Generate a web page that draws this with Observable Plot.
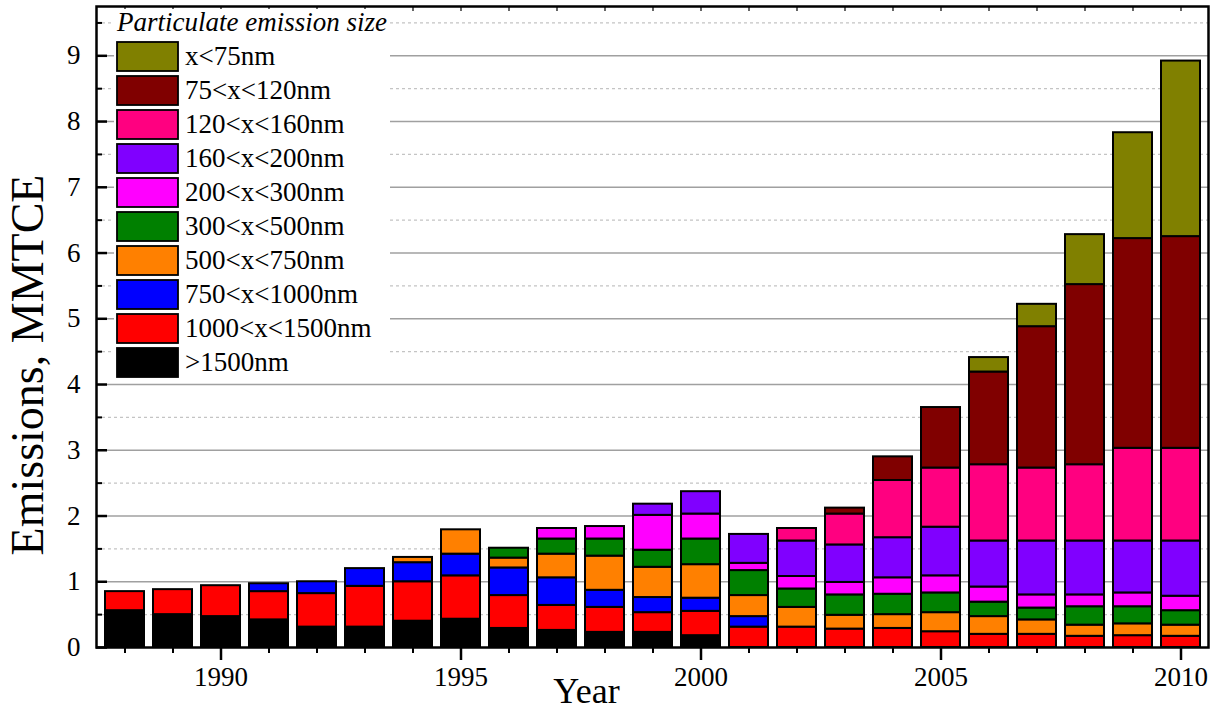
<!DOCTYPE html>
<html>
<head>
<meta charset="utf-8">
<script src="https://cdn.jsdelivr.net/npm/d3@7"></script>
<script src="https://cdn.jsdelivr.net/npm/@observablehq/plot@0.6"></script>
<style>
  html, body { margin: 0; padding: 0; background: white; }
  #chart svg { display: block; }
</style>
</head>
<body>
<div id="chart"></div>
<script>
const years = [1988,1989,1990,1991,1992,1993,1994,1995,1996,1997,1998,1999,2000,2001,2002,2003,2004,2005,2006,2007,2008,2009,2010];

const sizes = [">1500nm","1000<x<1500nm","750<x<1000nm","500<x<750nm","300<x<500nm","200<x<300nm","160<x<200nm","120<x<160nm","75<x<120nm","x<75nm"];
const colors = ["#000000","#ff0000","#0000ff","#ff8000","#008000","#ff00ff","#8000ff","#ff0080","#800000","#808000"];

const s1500 = [0.56,0.50,0.47,0.42,0.31,0.31,0.40,0.43,0.29,0.26,0.23,0.23,0.18,0,0,0,0,0,0,0,0,0,0];
const s1000 = [0.29,0.38,0.47,0.43,0.51,0.62,0.60,0.66,0.50,0.38,0.38,0.30,0.37,0.31,0.31,0.28,0.29,0.24,0.20,0.20,0.17,0.18,0.17];
const s750  = [0,0,0,0.12,0.18,0.27,0.29,0.33,0.42,0.42,0.26,0.23,0.20,0.16,0,0,0,0,0,0,0,0,0];
const s500  = [0,0,0,0,0,0,0.08,0.37,0.15,0.36,0.52,0.46,0.51,0.32,0.30,0.21,0.21,0.29,0.27,0.22,0.17,0.18,0.17];
const s300  = [0,0,0,0,0,0,0,0,0.15,0.23,0.26,0.26,0.39,0.38,0.28,0.31,0.31,0.30,0.22,0.18,0.28,0.26,0.22];
const s200  = [0,0,0,0,0,0,0,0,0,0.16,0.19,0.53,0.38,0.11,0.19,0.19,0.25,0.26,0.23,0.20,0.18,0.21,0.22];
const s160  = [0,0,0,0,0,0,0,0,0,0,0,0.17,0.34,0.44,0.54,0.57,0.61,0.74,0.70,0.82,0.82,0.79,0.84];
const s120  = [0,0,0,0,0,0,0,0,0,0,0,0,0,0,0.19,0.47,0.87,0.90,1.16,1.11,1.16,1.41,1.41];
const s75   = [0,0,0,0,0,0,0,0,0,0,0,0,0,0,0,0.09,0.36,0.92,1.41,2.15,2.74,3.19,3.22];
const s0    = [0,0,0,0,0,0,0,0,0,0,0,0,0,0,0,0,0,0,0.22,0.34,0.76,1.61,2.67];

const series = [s1500, s1000, s750, s500, s300, s200, s160, s120, s75, s0];

const majorY = [0,1,2,3,4,5,6,7,8,9];
const minorY = [0.5,1.5,2.5,3.5,4.5,5.5,6.5,7.5,8.5,9.5];
const labeledYears = [1990,1995,2000,2005,2010];

const data = [];
years.forEach((yr, i) => {
  series.forEach((s, k) => {
    if (s[i] > 0) data.push({year: yr, size: sizes[k], value: s[i]});
  });
});

const FONT = "'Liberation Serif','Times New Roman',Times,serif";

const chart = Plot.plot({
  width: 1214,
  height: 714,
  marginTop: 6,
  marginBottom: 67,
  marginLeft: 96,
  marginRight: 6,
  style: {fontFamily: FONT, fontSize: "27px", background: "white", color: "black"},
  x: {type: "band", domain: years, paddingInner: 0.193, paddingOuter: 0.1, align: 0.5},
  y: {domain: [0, 9.75]},
  color: {domain: sizes, range: colors},
  marks: [
    Plot.ruleY(minorY, {stroke: "#c4c4c4", strokeWidth: 1.2, strokeDasharray: "3,3"}),
    Plot.ruleY(majorY.filter(d => d > 0), {stroke: "#a0a0a0", strokeWidth: 1.5}),
    Plot.barY(data, {x: "year", y: "value", fill: "size", stroke: "black", strokeWidth: 2, order: sizes}),
    // y axis: inward ticks
    Plot.axisY(majorY, {anchor: "left", tickSize: -11, strokeWidth: 2.5, tickFormat: () => "", label: null}),
    Plot.axisY(minorY, {anchor: "left", tickSize: -6, strokeWidth: 2, tickFormat: () => "", label: null}),
    Plot.axisY(majorY, {anchor: "left", tickSize: 0, tickPadding: 16, fontSize: 27, fontFamily: FONT, fill: "black", tickFormat: d => String(d), label: null}),
    // x axis: outward ticks
    Plot.axisX(years, {anchor: "bottom", tickSize: 6, strokeWidth: 2, tickFormat: () => "", label: null}),
    Plot.axisX(labeledYears, {anchor: "bottom", tickSize: 13, strokeWidth: 2.5, tickPadding: 6, fontSize: 27, fontFamily: FONT, fill: "black", tickFormat: d => String(d), label: null}),
    Plot.axisX(years, {anchor: "top", tickSize: -4, strokeWidth: 1.2, tickFormat: () => "", label: null}),
    Plot.frame({stroke: "black", strokeWidth: 2.5}),
    Plot.text(["Year"], {frameAnchor: "bottom", textAnchor: "middle", lineAnchor: "top", dx: -66, dy: 30, fontSize: 36, fontFamily: FONT, fill: "black"}),
    Plot.text(["Emissions, MMTCE"], {frameAnchor: "left", textAnchor: "middle", lineAnchor: "middle", rotate: -90, dx: -68, dy: 38, fontSize: 46, fontFamily: FONT, fill: "black"})
  ]
});

document.getElementById("chart").appendChild(chart);

// Legend inside the plot area (top-left)
const svg = d3.select(chart);
const lg = svg.append("g").attr("font-family", FONT).attr("text-anchor", "start").attr("fill", "black");
lg.append("rect").attr("x", 114).attr("y", 9).attr("width", 276).attr("height", 371).attr("fill", "white");
lg.append("text").attr("x", 117).attr("y", 31).attr("font-size", 27).attr("font-style", "italic")
  .attr("text-anchor", "start").text("Particulate emission size");
const legendOrder = sizes.slice().reverse();
const legendColors = colors.slice().reverse();
legendOrder.forEach((name, i) => {
  const y0 = 42 + i * 34;
  lg.append("rect").attr("x", 117).attr("y", y0).attr("width", 61).attr("height", 29)
    .attr("fill", legendColors[i]).attr("stroke", "black").attr("stroke-width", 1.8);
  lg.append("text").attr("x", 185).attr("y", y0 + 23).attr("font-size", 27)
    .attr("text-anchor", "start").text(name);
});
</script>
</body>
</html>
